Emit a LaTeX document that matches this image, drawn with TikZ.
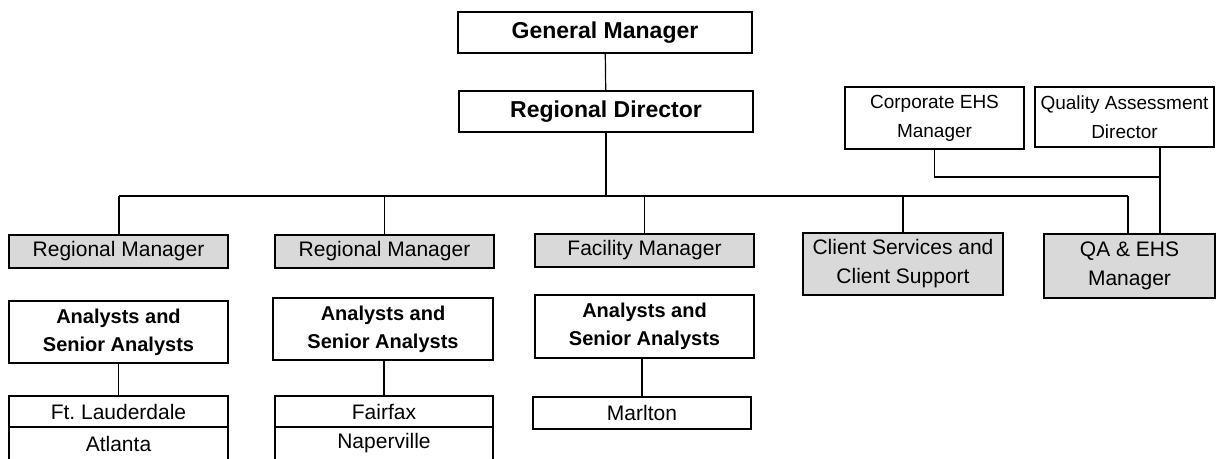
\documentclass[tikz,border=0pt]{standalone}
\usepackage{fontspec}
\setmainfont{Liberation Sans}
\usepackage{tikz}
\definecolor{box_grey}{RGB}{217, 217, 217}
\tikzstyle{wb}=[rectangle,draw=black,fill=white,line width=1.2pt,inner sep=2pt,
  align=center,font=\fontsize{21}{29}\selectfont]
\tikzstyle{gb}=[wb,fill=box_grey]
\tikzstyle{top}=[wb,font=\fontsize{23}{29}\selectfont\bfseries]
\tikzstyle{an}=[wb,font=\fontsize{20}{28}\selectfont\bfseries]
\tikzstyle{ehs}=[wb,font=\fontsize{19}{29}\selectfont]
\tikzstyle{link}=[line width=1.2pt]

\begin{document}
\begin{tikzpicture}[x=1pt,y=-1pt]
            \useasboundingbox (0,0) rectangle (1217,458);
            \clip (0,0) rectangle (1217,458);
            \node [style=top,minimum width=294pt,minimum height=41pt] (gm) at (605, 32.5) {General Manager};
            \node [style=top,minimum width=294pt,minimum height=41pt] (rd) at (606, 111.5) {Regional Director};
            \node [style=ehs,minimum width=179pt,minimum height=62pt] (ce) at (934.5, 118) {Corporate EHS\\Manager};
            \node [style=ehs,minimum width=179pt,minimum height=60pt] (qd) at (1124.5, 117) {Quality Assessment\\Director};
            \node [style=gb,minimum width=219pt,minimum height=33pt] (rm1) at (118.5, 251.5) {Regional Manager};
            \node [style=gb,minimum width=219pt,minimum height=33pt] (rm2) at (384.5, 251.5) {Regional Manager};
            \node [style=gb,minimum width=219pt,minimum height=33pt] (fm) at (644.5, 250.5) {Facility Manager};
            \node [style=gb,minimum width=200pt,minimum height=62pt] (cs) at (903, 264) {Client Services and\\Client Support};
            \node [style=gb,minimum width=171pt,minimum height=64pt] (qa) at (1129.5, 266) {QA \& EHS\\Manager};
            \node [style=an,minimum width=219pt,minimum height=62pt] (an1) at (118.5, 332) {Analysts and\\Senior Analysts};
            \node [style=an,minimum width=220pt,minimum height=62pt] (an2) at (383, 329) {Analysts and\\Senior Analysts};
            \node [style=an,minimum width=219pt,minimum height=63pt] (an3) at (644.5, 326.5) {Analysts and\\Senior Analysts};
            \node [style=wb,minimum width=219pt,minimum height=31pt] (ftl) at (118.5, 411.5) {Ft.\ Lauderdale};
            \node [style=wb,minimum width=219pt,minimum height=33pt] (atl) at (118.5, 443.5) {Atlanta};
            \node [style=wb,minimum width=218pt,minimum height=31pt] (ffx) at (384, 411.5) {Fairfax};
            \node [style=wb,minimum width=218pt,minimum height=33pt] (npv) at (384, 443.5) {Naperville};
            \node [style=wb,minimum width=218pt,minimum height=32pt] (mar) at (642, 413) {Marlton};
            \coordinate (bl) at (119, 196);
            \coordinate (br) at (1128, 196);
            \coordinate (qj) at (1160, 177);
            \draw [style=link] (gm) to (rd);
            \draw [style=link] (rd.south) to (rd.south |- bl);
            \draw [style=link] (bl) to (br);
            \draw [style=link] (bl) to (rm1.north -| bl);
            \draw [style=link] (rm2.north |- bl) to (rm2.north);
            \draw [style=link] (fm.north |- bl) to (fm.north);
            \draw [style=link] (cs.north |- bl) to (cs.north);
            \draw [style=link] (br) to (qa.north -| br);
            \draw [style=link] (ce.south) |- (qj);
            \draw [style=link] (qd.south -| qj) to (qa.north -| qj);
            \draw [style=link] (an1) to (ftl);
            \draw [style=link] (an2.south -| ffx) to (ffx);
            \draw [style=link] (an3.south -| mar) to (mar);
    \end{tikzpicture}
\end{document}
